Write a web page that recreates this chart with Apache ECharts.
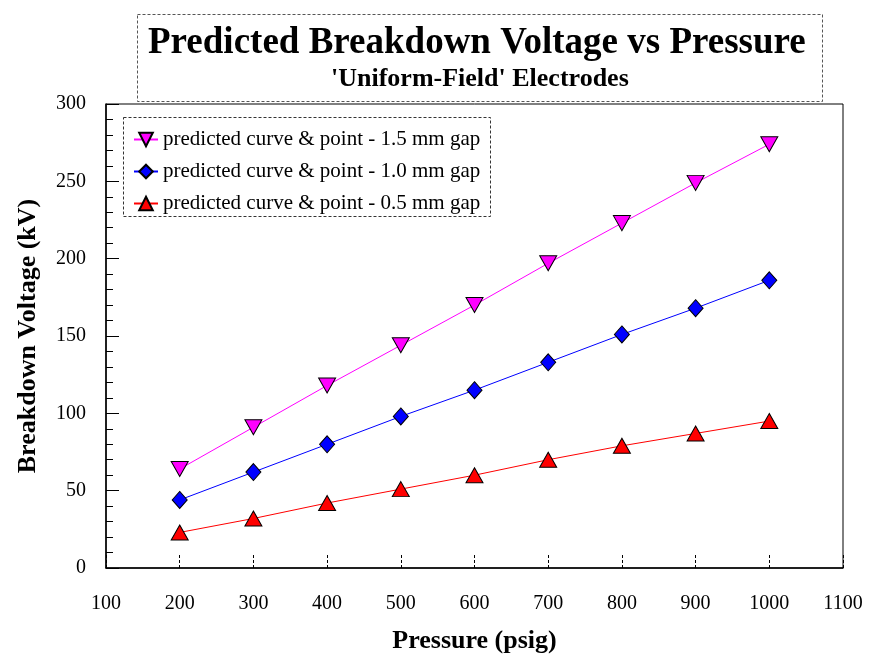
<!DOCTYPE html>
<html>
<head>
<meta charset="utf-8">
<script src="https://cdn.jsdelivr.net/npm/echarts@6/dist/echarts.min.js"></script>
<style>
    html, body { margin: 0; padding: 0; background: #fff; }
    #chart { width: 870px; height: 662px; }
</style>
</head>
<body>
<div id="chart"></div>
<script>
    // data
    const pressure = [200, 300, 400, 500, 600, 700, 800, 900, 1000];
    const gap15 = [64, 91, 118, 144, 170, 197, 223, 249, 274];
    const gap10 = [44, 62, 80, 98, 115, 133, 151, 168, 186];
    const gap05 = [23, 32, 42, 51, 60, 70, 79, 87, 95];
    const seriesNames = [
        'predicted curve & point - 1.5 mm gap',
        'predicted curve & point - 1.0 mm gap',
        'predicted curve & point - 0.5 mm gap'
    ];

    const font = '"Liberation Serif", "Times New Roman", serif';
    const chart = echarts.init(document.getElementById('chart'));

    function pairs(vals) {
        return pressure.map((p, i) => [p, vals[i]]);
    }

    const downTriangle = 'path://M0,0 L10,0 L5,10 Z';

    const option = {
        backgroundColor: '#fff',
        animation: false,
        title: [
            {
                text: 'Predicted Breakdown Voltage vs Pressure',
                left: 148,
                top: 25,
                padding: 0,
                textStyle: { fontFamily: font, fontWeight: 'bold', fontSize: 37, color: '#000' }
            },
            {
                text: "'Uniform-Field' Electrodes",
                left: 331,
                top: 66,
                padding: 0,
                textStyle: { fontFamily: font, fontWeight: 'bold', fontSize: 26, color: '#000' }
            }
        ],
        graphic: [
            {
                type: 'rect',
                shape: { x: 137.5, y: 14.5, width: 685, height: 87 },
                style: { fill: null, stroke: '#555', lineWidth: 1, lineDash: [3, 2] },
                z: -1
            },
            {
                type: 'rect',
                shape: { x: 123.5, y: 117.5, width: 367, height: 99 },
                style: { fill: null, stroke: '#333', lineWidth: 1, lineDash: [3, 2] },
                z: 100
            }
        ],
        legend: {
            orient: 'vertical',
            left: 128,
            top: 124,
            itemGap: 11,
            itemWidth: 24,
            itemHeight: 17,
            textStyle: { fontFamily: font, fontSize: 21, color: '#000' },
            data: seriesNames
        },
        grid: {
            left: 106,
            right: 27,
            top: 104,
            bottom: 94,
            outerBoundsMode: 'none',
            show: true,
            borderColor: '#000',
            borderWidth: 1
        },
        xAxis: {
            type: 'value',
            min: 100,
            max: 1100,
            interval: 100,
            name: 'Pressure (psig)',
            nameLocation: 'middle',
            nameGap: 60,
            nameTextStyle: { fontFamily: font, fontWeight: 'bold', fontSize: 26, color: '#000' },
            axisLine: { show: true, lineStyle: { color: '#000', width: 1.5 } },
            axisTick: { show: true, inside: true, length: 15, lineStyle: { color: '#000', type: [3, 2] } },
            axisLabel: {
                fontFamily: font, fontSize: 20, color: '#000', margin: 26,
                formatter: v => String(v)
            },
            splitLine: { show: false }
        },
        yAxis: {
            type: 'value',
            min: 0,
            max: 300,
            interval: 50,
            name: 'Breakdown Voltage (kV)',
            nameLocation: 'middle',
            nameGap: 65,
            nameTextStyle: { fontFamily: font, fontWeight: 'bold', fontSize: 26, color: '#000' },
            axisLine: { show: true, lineStyle: { color: '#000', width: 1.5 } },
            axisTick: { show: true, inside: true, length: 13, lineStyle: { color: '#000' } },
            minorTick: { show: true, splitNumber: 5, length: 7, lineStyle: { color: '#000' } },
            axisLabel: {
                fontFamily: font, fontSize: 20, color: '#000', margin: 20,
                formatter: v => String(v)
            },
            splitLine: { show: false }
        },
        series: [
            {
                name: seriesNames[0],
                type: 'line',
                data: pairs(gap15),
                symbol: downTriangle,
                symbolSize: [17, 15],
                lineStyle: { color: '#ff00ff', width: 1 },
                itemStyle: { color: '#ff00ff', borderColor: '#000', borderWidth: 1 },
                z: 3
            },
            {
                name: seriesNames[1],
                type: 'line',
                data: pairs(gap10),
                symbol: 'diamond',
                symbolSize: [15, 17],
                lineStyle: { color: '#0000ff', width: 1 },
                itemStyle: { color: '#0000ff', borderColor: '#000', borderWidth: 1 },
                z: 3
            },
            {
                name: seriesNames[2],
                type: 'line',
                data: pairs(gap05),
                symbol: 'triangle',
                symbolSize: [17, 15],
                lineStyle: { color: '#ff0000', width: 1 },
                itemStyle: { color: '#ff0000', borderColor: '#000', borderWidth: 1 },
                z: 3
            }
        ]
    };

    chart.setOption(option);
</script>
</body>
</html>
